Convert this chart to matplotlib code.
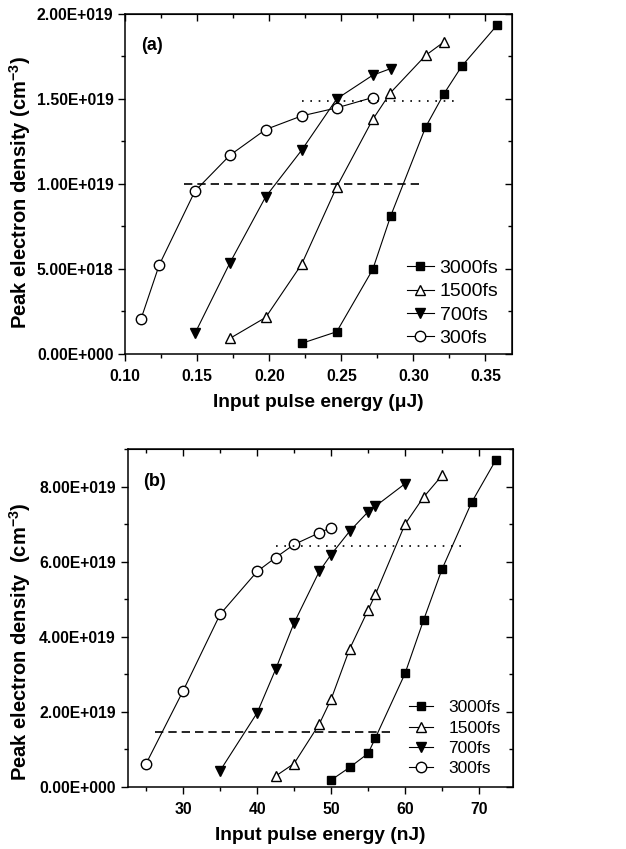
import matplotlib
matplotlib.use('Agg')
import matplotlib.pyplot as plt
from matplotlib.ticker import MultipleLocator, FuncFormatter

plt.rcParams['mathtext.fontset'] = 'custom'
plt.rcParams['mathtext.rm'] = 'Liberation Sans'
plt.rcParams['mathtext.bf'] = 'Liberation Sans:bold'

# ---- panel (a) data, energy in uJ ----
a_3000_x = [0.2225, 0.2468, 0.2718, 0.2843, 0.3086, 0.3213, 0.3336, 0.3579]
a_3000_y = [0.063e19, 0.131e19, 0.497e19, 0.812e19, 1.335e19, 1.530e19, 1.691e19, 1.930e19]
a_1500_x = [0.1727, 0.1975, 0.2225, 0.2468, 0.2718, 0.2840, 0.3086, 0.3213]
a_1500_y = [0.092e19, 0.215e19, 0.528e19, 0.982e19, 1.378e19, 1.534e19, 1.755e19, 1.834e19]
a_700_x = [0.1484, 0.1727, 0.1975, 0.2225, 0.2468, 0.2718, 0.2843]
a_700_y = [0.121e19, 0.536e19, 0.924e19, 1.198e19, 1.499e19, 1.638e19, 1.677e19]
a_300_x = [0.1109, 0.1236, 0.1484, 0.1727, 0.1975, 0.2225, 0.2468, 0.2718]
a_300_y = [0.204e19, 0.523e19, 0.957e19, 1.168e19, 1.319e19, 1.399e19, 1.446e19, 1.507e19]
a_dash = (1.0e19, 0.141, 0.307)     # level, x start, x end
a_dot = (1.485e19, 0.2225, 0.3324)

# ---- panel (b) data, energy in nJ ----
b_3000_x = [50, 52.5, 55, 56, 60, 62.5, 65, 69, 72.3]
b_3000_y = [0.178e19, 0.515e19, 0.888e19, 1.305e19, 3.02e19, 4.44e19, 5.80e19, 7.58e19, 8.72e19]
b_1500_x = [42.5, 45, 48.4, 50, 52.5, 55, 56, 60, 62.5, 65]
b_1500_y = [0.284e19, 0.62e19, 1.67e19, 2.33e19, 3.67e19, 4.71e19, 5.13e19, 7.0e19, 7.72e19, 8.30e19]
b_700_x = [35, 40, 42.5, 45, 48.4, 50, 52.5, 55, 56, 60]
b_700_y = [0.43e19, 1.97e19, 3.13e19, 4.37e19, 5.74e19, 6.19e19, 6.81e19, 7.33e19, 7.48e19, 8.08e19]
b_300_x = [25, 30, 35, 40, 42.5, 45, 48.4, 50]
b_300_y = [0.62e19, 2.56e19, 4.60e19, 5.74e19, 6.11e19, 6.46e19, 6.77e19, 6.91e19]
b_dash = (1.456e19, 26.2, 58.6)
b_dot = (6.41e19, 42.6, 68.0)

LABELS = ['3000fs', '1500fs', '700fs', '300fs']
FONT = 'Liberation Sans'


def sci_fmt(v, pos):
    if v == 0:
        return '0.00E+000'
    s = '%.2E' % v
    mant, ex = s.split('E')
    return mant + 'E' + '%+04d' % int(ex)


def draw_panel(ax, series, dash, dot, xlim, ylim, xmaj, xmin, ymaj, ymin,
               xlabel, ylabel, tag, ylab_pos, leg_anchor, leg_pad, leg_size):
    styles = [dict(marker='s', mfc='black', ms=6),
              dict(marker='^', mfc='white', ms=7.5),
              dict(marker='v', mfc='black', ms=7.5),
              dict(marker='o', mfc='white', ms=7.5)]
    for (xs, ys), st, lab in zip(series, styles, LABELS):
        ax.plot(xs, ys, color='black', lw=0.8, mec='black', mew=1.0,
                label=lab, **st)
    ax.plot([dash[1], dash[2]], [dash[0], dash[0]], color='black', lw=1.2,
            dashes=(5, 3))
    ax.plot([dot[1], dot[2]], [dot[0], dot[0]], color='black', lw=1.2,
            dashes=(1, 4))
    ax.set_xlim(*xlim)
    ax.set_ylim(*ylim)
    ax.xaxis.set_major_locator(MultipleLocator(xmaj))
    ax.xaxis.set_minor_locator(MultipleLocator(xmin))
    ax.yaxis.set_major_locator(MultipleLocator(ymaj))
    ax.yaxis.set_minor_locator(MultipleLocator(ymin))
    ax.yaxis.set_major_formatter(FuncFormatter(sci_fmt))
    ax.tick_params(which='major', direction='out', length=5, width=1)
    ax.tick_params(which='minor', direction='out', length=3, width=1)
    ax.tick_params(axis='x', pad=6)
    for lbl in ax.get_xticklabels() + ax.get_yticklabels():
        lbl.set_fontfamily(FONT)
        lbl.set_fontweight('bold')
        lbl.set_fontsize(11.3)
    for sp in ax.spines.values():
        sp.set_linewidth(1.1)

    top = ax.secondary_xaxis('top')
    top.xaxis.set_major_locator(MultipleLocator(xmaj))
    top.xaxis.set_minor_locator(MultipleLocator(xmin))
    top.tick_params(which='both', direction='in', labeltop=False, width=1)
    top.tick_params(which='major', length=5)
    top.tick_params(which='minor', length=3)
    right = ax.secondary_yaxis('right')
    right.yaxis.set_major_locator(MultipleLocator(ymaj))
    right.yaxis.set_minor_locator(MultipleLocator(ymin))
    right.tick_params(which='both', direction='in', labelright=False, width=1)
    right.tick_params(which='major', length=5)
    right.tick_params(which='minor', length=3)

    ax.set_xlabel(xlabel, family=FONT, fontweight='bold', fontsize=13.8,
                  labelpad=7)
    ax.set_ylabel(ylabel, family=FONT, fontweight='bold', fontsize=14.5)
    ax.yaxis.set_label_coords(*ylab_pos)
    ax.text(0.04, 0.905, tag, transform=ax.transAxes, family=FONT,
            fontweight='bold', fontsize=13, va='center')
    ax.legend(loc='lower right', bbox_to_anchor=leg_anchor, frameon=False,
              prop=dict(family=FONT, size=leg_size), handlelength=1.4,
              handletextpad=leg_pad, labelspacing=0.3, borderaxespad=0.3)


fig = plt.figure(figsize=(6.26, 8.49), dpi=100)
ax1 = fig.add_axes((0.200, 0.583, 0.618, 0.401))
ax2 = fig.add_axes((0.204, 0.0733, 0.6155, 0.3976))

draw_panel(ax1, [(a_3000_x, a_3000_y), (a_1500_x, a_1500_y),
                 (a_700_x, a_700_y), (a_300_x, a_300_y)],
           a_dash, a_dot, (0.10, 0.3685), (0, 2.0e19), 0.05, 0.025,
           0.5e19, 0.25e19, 'Input pulse energy (\u03bcJ)',
           'Peak electron density (cm$^{\\mathbf{-3}}$)', '(a)',
           (-0.239, 0.475), (1.0, -0.02), 0.3, 14)
draw_panel(ax2, [(b_3000_x, b_3000_y), (b_1500_x, b_1500_y),
                 (b_700_x, b_700_y), (b_300_x, b_300_y)],
           b_dash, b_dot, (22.5, 74.6), (0, 9.0e19), 10, 5,
           2e19, 1e19, 'Input pulse energy (nJ)',
           'Peak electron density  (cm$^{\\mathbf{-3}}$)', '(b)',
           (-0.246, 0.43), (1.0, -0.005), 0.9, 12.5)

fig.savefig('out.png', dpi=100)
